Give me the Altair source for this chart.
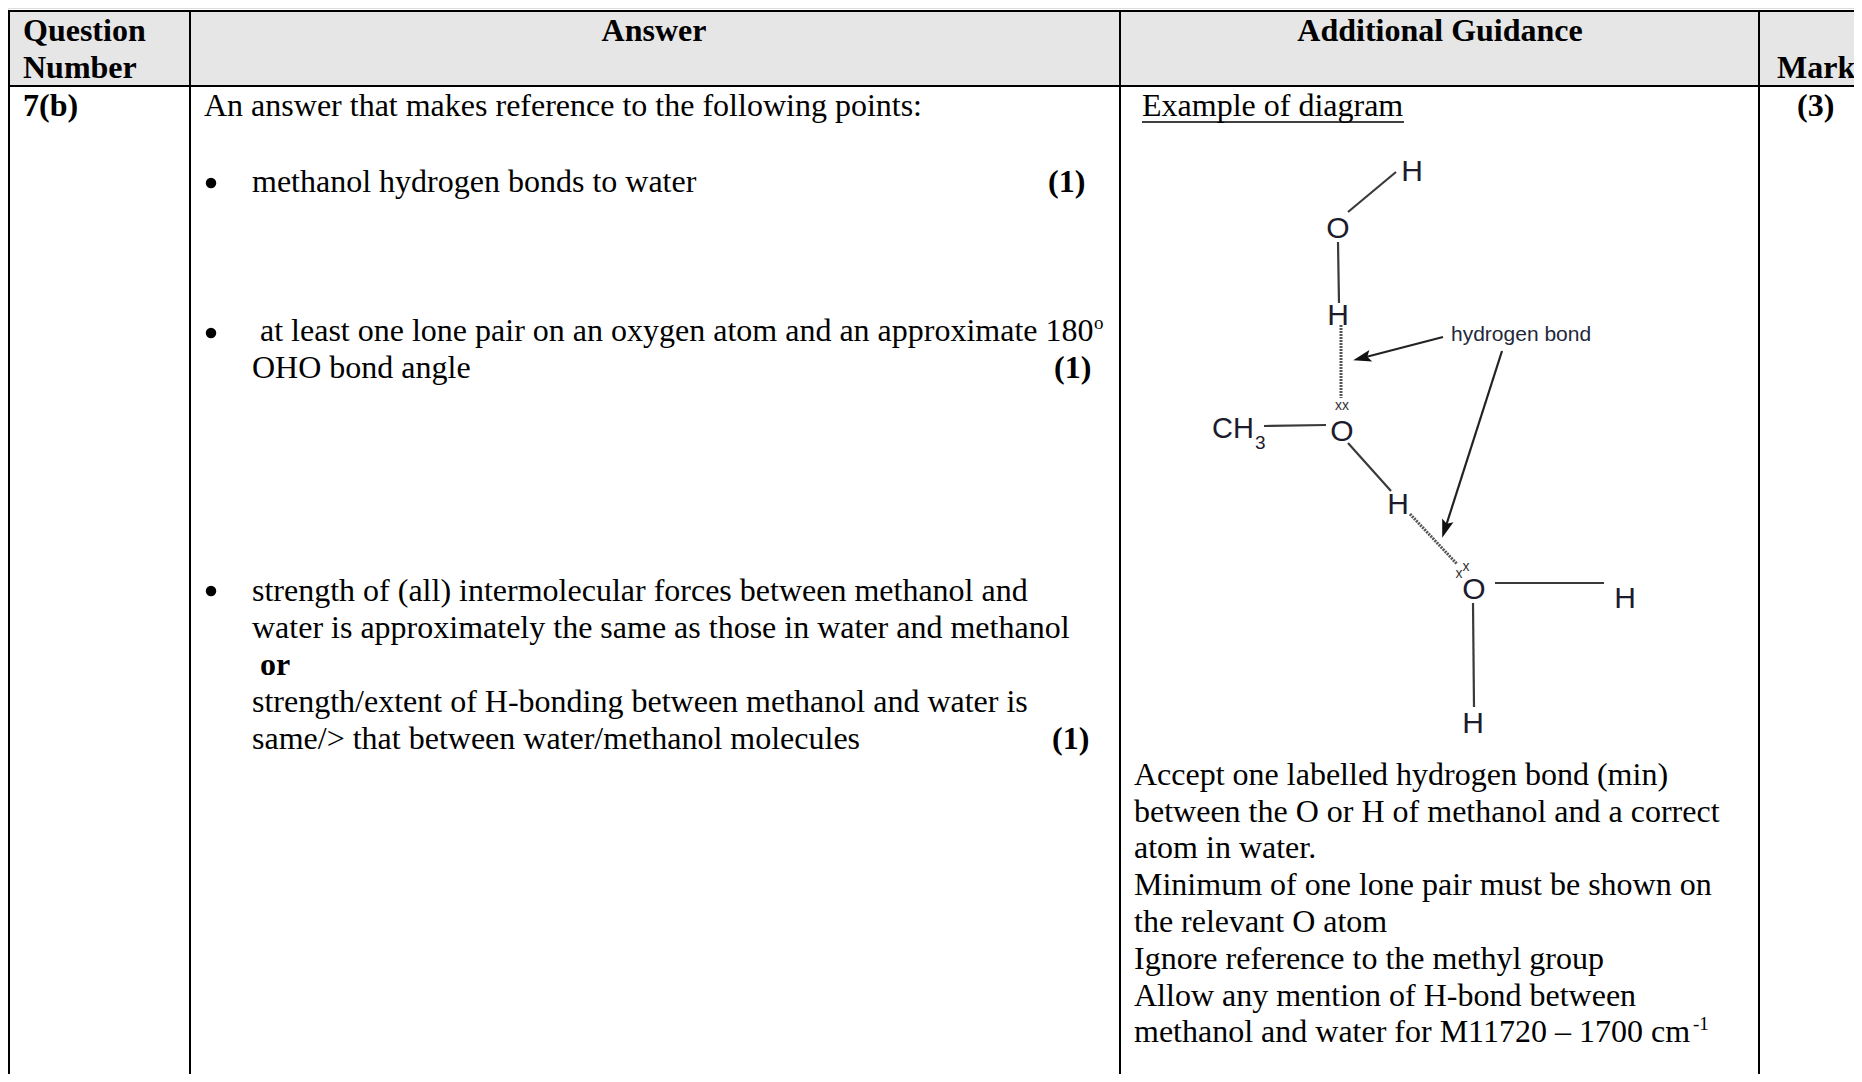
import altair as alt
import pandas as pd

W, H = 1846, 1066

# Table geometry (page pixels)
hdr_x = [9, 190, 1120, 1759]
hdr_x2 = [190, 1120, 1759, 1862]
v_x = [9, 190, 1120, 1759]
h_y = [11, 86]

# Body text, one list per property
t_text = ["An answer that makes reference to the following points:",
          "methanol hydrogen bonds to water",
          "at least one lone pair on an oxygen atom and an approximate 180",
          "OHO bond angle",
          "strength of (all) intermolecular forces between methanol and",
          "water is approximately the same as those in water and methanol",
          "strength/extent of H-bonding between methanol and water is",
          "same/> that between water/methanol molecules",
          "Example of diagram",
          "Accept one labelled hydrogen bond (min)",
          "between the O or H of methanol and a correct",
          "atom in water.",
          "Minimum of one lone pair must be shown on",
          "the relevant O atom",
          "Ignore reference to the methyl group",
          "Allow any mention of H-bond between",
          "methanol and water for M11720 – 1700 cm"]
t_x = [204, 252, 260, 252, 252, 252, 252, 252, 1142,
       1134, 1134, 1134, 1134, 1134, 1134, 1134, 1134]
t_y = [116, 192, 341, 378, 601, 638, 712, 749, 116,
       785, 822, 858, 895, 932, 969, 1006, 1042]

bullet_x = [211, 211, 211]
bullet_y = [183, 333, 591]

b_text = ["Question", "Number", "7(b)", "(1)", "(1)", "or", "(1)", "Mark", "(3)"]
b_x = [23, 23, 23, 1048, 1054, 260, 1052, 1777, 1797]
b_y = [41, 78, 116, 192, 378, 675, 749, 78, 116]

c_text = ["Answer", "Additional Guidance"]
c_x = [654, 1440]
c_y = [41, 41]

s_text = ["o", "-1"]
s_x = [1094, 1693]
s_y = [329, 1030]

# Diagram
atom_text = ["H", "O", "H", "O", "H", "O", "H", "H"]
atom_x = [1412, 1338, 1338, 1342, 1398, 1474, 1625, 1473]
atom_y = [181, 238, 325, 441, 514, 599, 608, 733]

bond_x = [1348, 1338, 1264, 1348, 1495, 1473]
bond_y = [212, 242, 426, 443, 583, 603]
bond_x2 = [1396, 1339, 1326, 1391, 1604, 1474]
bond_y2 = [172, 303, 425, 491, 583, 707]

dot_x = [1341, 1410]
dot_y = [325, 514]
dot_x2 = [1341, 1457]
dot_y2 = [398, 564]

arrow_x = [1443, 1502]
arrow_y = [337, 351]
arrow_x2 = [1362, 1445]
arrow_y2 = [358, 529]
head_x = [1362, 1445]
head_y = [358, 529]
head_angle = [256, 198]

xscale = alt.Scale(domain=[8, 8 + W], range=[0, W], nice=False, zero=False)
yscale = alt.Scale(domain=[8, 8 + H], range=[0, H], nice=False, zero=False)
X = alt.X("x:Q", scale=xscale, axis=None)
Y = alt.Y("y:Q", scale=yscale, axis=None)
X2, Y2 = alt.X2("x2:Q"), alt.Y2("y2:Q")


def text_layer(texts, xs, ys, **kw):
    df = pd.DataFrame({"x": xs, "y": ys, "t": texts})
    base = dict(baseline="alphabetic", align="left", font="Liberation Serif", fontSize=32, color="#000000")
    base.update(kw)
    return alt.Chart(df).mark_text(**base).encode(x=X, y=Y, text="t:N")


def rules(xs, ys, x2s, y2s, **kw):
    df = pd.DataFrame({"x": xs, "y": ys, "x2": x2s, "y2": y2s})
    return alt.Chart(df).mark_rule(**kw).encode(x=X, y=Y, x2=X2, y2=Y2)


header_bg = alt.Chart(pd.DataFrame({"x": hdr_x, "x2": hdr_x2, "y": [11] * 4, "y2": [86] * 4})).mark_rect(
    color="#E6E6E6").encode(x=X, x2=X2, y=Y, y2=Y2)

layers = [
    header_bg,
    rules(v_x, [10] * 4, v_x, [1082] * 4, color="#000000", strokeWidth=2),
    rules([8, 8], h_y, [1862, 1862], h_y, color="#000000", strokeWidth=2),
    rules([1142], [122], [1404], [122], color="#000000", strokeWidth=1.5),
    text_layer(t_text, t_x, t_y),
    alt.Chart(pd.DataFrame({"x": bullet_x, "y": bullet_y})).mark_point(
        shape="circle", filled=True, color="#000000", opacity=1, size=110).encode(x=X, y=Y),
    text_layer(b_text, b_x, b_y, fontWeight="bold"),
    text_layer(c_text, c_x, c_y, fontWeight="bold", align="center"),
    text_layer(s_text, s_x, s_y, fontSize=19),
    rules(bond_x, bond_y, bond_x2, bond_y2, color="#3a3a3a", strokeWidth=2.2),
    rules(dot_x, dot_y, dot_x2, dot_y2, color="#555555", strokeWidth=3, strokeDash=[2, 1]),
    rules(arrow_x, arrow_y, arrow_x2, arrow_y2, color="#222222", strokeWidth=2.2),
    alt.Chart(pd.DataFrame({"x": head_x, "y": head_y, "a": head_angle})).mark_point(
        shape="M0,-1 L0.65,1 L0,0.6 L-0.65,1 Z", filled=True, color="#111111", opacity=1, size=330).encode(
        x=X, y=Y, angle=alt.Angle("a:Q", scale=None)),
    text_layer(atom_text, atom_x, atom_y, font="Liberation Sans", fontSize=30, align="center", color="#1c1c2c"),
    text_layer(["CH"], [1212], [438], font="Liberation Sans", fontSize=29, color="#1c1c2c"),
    text_layer(["3"], [1255], [449], font="Liberation Sans", fontSize=19, color="#1c1c2c"),
    text_layer(["hydrogen bond"], [1451], [341], font="Liberation Sans", fontSize=21, color="#22283a"),
    text_layer(["xx"], [1342], [410], font="Liberation Sans", fontSize=14, align="center", color="#333333"),
    text_layer(["x", "x"], [1466, 1459], [571, 578], font="Liberation Sans", fontSize=14, align="center", color="#333333"),
]

chart = alt.layer(*layers).properties(width=W, height=H, padding=0, autosize=alt.AutoSizeParams(type="none")).configure_view(
    stroke=None).configure(background="#FFFFFF")

chart.save("out.html", embed_options={"renderer": "svg", "actions": False})
